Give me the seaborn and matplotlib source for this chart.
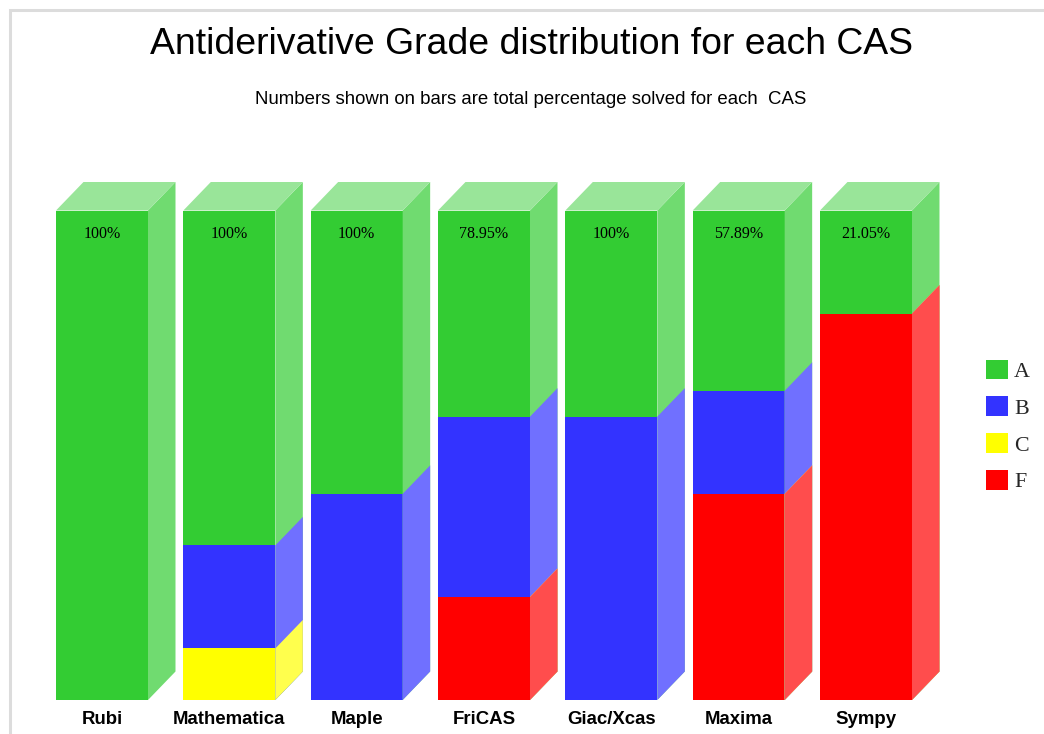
import numpy as np
import pandas as pd
import matplotlib
matplotlib.use("Agg")
import matplotlib.pyplot as plt
import seaborn as sns
from matplotlib.patches import Polygon, Patch, Rectangle

# ---------------- data ----------------
cas = ["Rubi", "Mathematica", "Maple", "FriCAS", "Giac/Xcas", "Maxima", "Sympy"]
grade_A = [100.0, 68.42, 57.89, 42.11, 42.11, 36.84, 21.05]
grade_B = [0.0, 21.05, 42.11, 36.84, 57.89, 21.05, 0.0]
grade_C = [0.0, 10.53, 0.0, 0.0, 0.0, 0.0, 0.0]
grade_F = [0.0, 0.0, 0.0, 21.05, 0.0, 42.11, 78.95]
grades = ["A", "B", "C", "F"]

# ---------------- style ----------------
front = {"A": "#33CC33", "B": "#3333FF", "C": "#FFFF00", "F": "#FF0000"}
side = {"A": "#70DB70", "B": "#7070FF", "C": "#FFFF4D", "F": "#FF4D4D"}
top_col = "#99E599"
DEPTH_X = 27.5   # pixels
DEPTH_Y = 28.5   # pixels
W, H = 1044, 734

sns.set_theme(style="white")
plt.rcParams["font.family"] = ["Liberation Sans", "DejaVu Sans"]

fig = plt.figure(figsize=(W / 100, H / 100), dpi=100)
fig.patch.set_facecolor("white")
ax = fig.add_axes([38.33 / W, (H - 700) / H, 891.33 / W, 489.5 / H])

df = pd.DataFrame({"cas": cas, "A": grade_A, "B": grade_B, "C": grade_C, "F": grade_F})
# stack order bottom -> top: F, C, B, A
df["cF"] = df["F"]
df["cC"] = df["cF"] + df["C"]
df["cB"] = df["cC"] + df["B"]
df["cA"] = df["cB"] + df["A"]

layers = [("A", "cA"), ("B", "cB"), ("C", "cC"), ("F", "cF")]
layer_patches = {}
for g, col in layers:
    n_before = len(ax.patches)
    sns.barplot(data=df, x="cas", y=col, color=front[g], saturation=1, width=0.7225,
                edgecolor="none", linewidth=0, ax=ax, errorbar=None, zorder=2)
    layer_patches[g] = ax.patches[n_before:]

ax.set_xlim(-0.5, len(cas) - 0.5)
ax.set_ylim(0, 100)
fig.canvas.draw()
bb = ax.get_window_extent()
dx = DEPTH_X * (ax.get_xlim()[1] - ax.get_xlim()[0]) / bb.width
dy = DEPTH_Y * (ax.get_ylim()[1] - ax.get_ylim()[0]) / bb.height

for g, col in layers:
    for p in layer_patches[g]:
        h = p.get_height()
        if h <= 0:
            continue
        x0 = p.get_x() + p.get_width()
        y0 = p.get_y()
        poly = Polygon([(x0, y0), (x0, y0 + h), (x0 + dx, y0 + h + dy), (x0 + dx, y0 + dy)],
                       closed=True, facecolor=side[g], edgecolor="none", clip_on=False, zorder=2)
        ax.add_patch(poly)

# top faces
for p in layer_patches["A"]:
    xl = p.get_x(); xr = xl + p.get_width(); t = p.get_y() + p.get_height()
    ax.add_patch(Polygon([(xl, t), (xl + dx, t + dy), (xr + dx, t + dy), (xr, t)], closed=True,
                         facecolor=top_col, edgecolor="none", clip_on=False, zorder=2))

# percentage labels
solved = (df["A"] + df["B"] + df["C"]).round(2).tolist()
for p, s in zip(layer_patches["A"], solved):
    cx = p.get_x() + p.get_width() / 2
    ax.annotate(f"{s:g}%", xy=(cx, p.get_y() + p.get_height()), xytext=(0, -17.2),
                textcoords="offset points", ha="center", va="center",
                fontsize=11.5, family=["Liberation Serif", "DejaVu Serif"], color="black", zorder=5)

for s in ax.spines.values():
    s.set_visible(False)
ax.set_yticks([])
ax.set_xlabel("")
ax.set_ylabel("")
ax.tick_params(axis="x", length=0, pad=8.0)
for lab in ax.get_xticklabels():
    lab.set_fontweight("bold")
    lab.set_fontsize(13.4)
    lab.set_color("black")

# legend
handles = [Patch(facecolor=front[g], edgecolor="none", label=g) for g in grades]
leg = fig.legend(handles=handles, loc="center left", bbox_to_anchor=(968 / W, 1 - 426 / H),
                 frameon=False, handlelength=1.0, handleheight=1.0, handletextpad=0.3,
                 labelspacing=0.66, borderpad=0.3,
                 prop={"family": ["Liberation Serif", "DejaVu Serif"], "size": 15.8})

# titles
fig.text(531 / W, 1 - 44 / H, "Antiderivative Grade distribution for each CAS",
         ha="center", va="center", fontsize=26.9, color="black")
fig.text(531 / W, 1 - 99 / H, "Numbers shown on bars are total percentage solved for each  CAS",
         ha="center", va="center", fontsize=13.4, color="black")

# frame border (top and left)
fig.add_artist(Rectangle((9.5 / W, -0.1), 2.0, (H - 10.5) / H + 0.1, transform=fig.transFigure,
                         fill=False, edgecolor="#DCDCDC", linewidth=2.2))

fig.savefig("out.png", dpi=100, facecolor="white")
